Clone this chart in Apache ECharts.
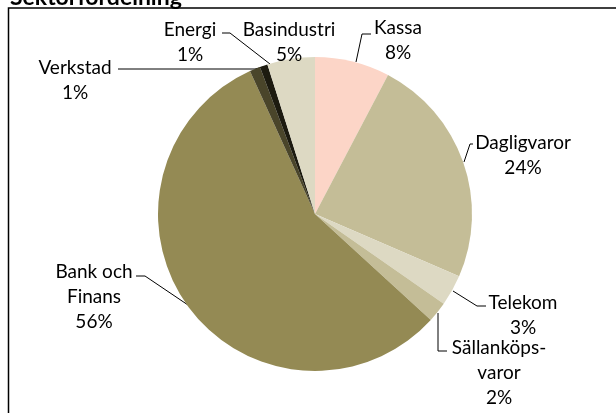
<!DOCTYPE html>
<html>
<head>
<meta charset="utf-8">
<script src="https://cdn.jsdelivr.net/npm/echarts@6/dist/echarts.min.js"></script>
<style>
html,body{margin:0;padding:0;background:#fff;}
#chart{width:616px;height:413px;}
</style>
</head>
<body>
<div id="chart"></div>
<script>
const title = "Sektorfördelning";
const categories = ["Kassa", "Dagligvaror", "Telekom", "Sällanköps-\nvaror", "Bank och\nFinans", "Verkstad", "Energi", "Basindustri"];
const values = [7.7, 23.8, 3.2, 2.1, 56.4, 1.1, 0.8, 4.9];
const colors = ["#FCD5C7", "#C4BD97", "#DDD9C3", "#C4BD97", "#948A54", "#4A452A", "#1D1B10", "#DDD9C3"];

// label placement (layout only)
const labelPos = [
  {x: 398, y: 40, pts: [[356, 62], [362, 34], [371, 34]]},
  {x: 523, y: 155, pts: [[464, 162], [470, 144], [473, 144]]},
  {x: 523, y: 315, pts: [[453, 291], [477, 306], [486, 306]]},
  {x: 499, y: 373, pts: [[438, 313], [438, 351], [447, 351]]},
  {x: 94, y: 297, pts: [[188, 305], [145, 276], [136, 276]]},
  {x: 75, y: 80, pts: [[263, 67], [255, 69], [118, 69]]},
  {x: 190, y: 42, pts: [[270, 64], [230, 33], [222, 33]]},
  {x: 289, y: 42, pts: null}
];

const chart = echarts.init(document.getElementById('chart'), null, {renderer: 'canvas'});
chart.setOption({
  animation: false,
  graphic: [
    {type: 'rect', shape: {x: 8.5, y: 8, width: 640, height: 440},
     style: {fill: 'none', stroke: '#000', lineWidth: 1.5}, z: 0},
    {type: 'text', left: 10, top: -14,
     style: {text: title, font: 'bold 23px Lato', fill: '#000'}, z: 5}
  ],
  series: [{
    type: 'pie',
    center: [315, 214],
    radius: [0, 157],
    startAngle: 90,
    clockwise: true,
    avoidLabelOverlap: false,
    data: categories.map((c, i) => ({
      name: c, value: values[i],
      itemStyle: {color: colors[i]},
      labelLine: {show: labelPos[i].pts !== null}
    })),
    itemStyle: {borderWidth: 0},
    label: {
      show: true,
      position: 'outside',
      fontFamily: 'Lato',
      fontSize: 19,
      lineHeight: 25,
      color: '#000',
      align: 'center',
      formatter: p => p.name + '\n' + Math.round(p.percent) + '%'
    },
    labelLine: {show: true, lineStyle: {color: '#000', width: 1}, smooth: false},
    labelLayout: function (params) {
      const lp = labelPos[params.dataIndex];
      const r = {x: lp.x, y: lp.y, align: 'center', verticalAlign: 'middle'};
      if (lp.pts) r.labelLinePoints = lp.pts;
      return r;
    },
    emphasis: {disabled: true}
  }]
});
</script>
</body>
</html>
